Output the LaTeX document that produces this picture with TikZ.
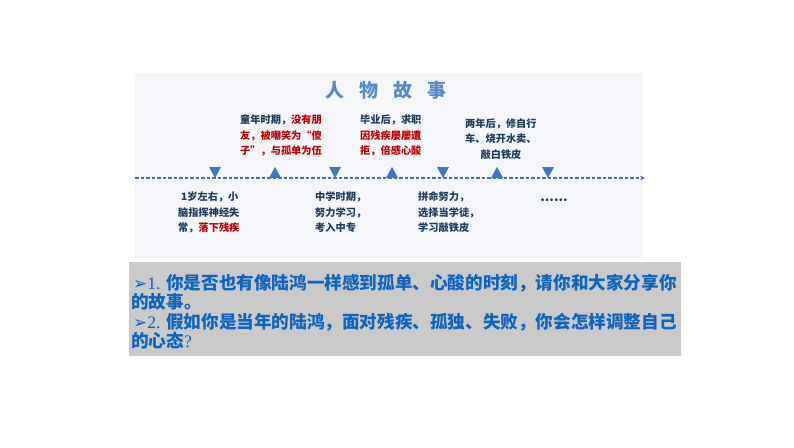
\documentclass[tikz,border=0pt]{standalone}
\usepackage{fontspec}
\usetikzlibrary{arrows.meta}
\newfontfamily\cjk{Noto Sans CJK SC}
\newfontfamily\dingf{DejaVu Sans}
\newfontfamily\serf{Liberation Serif}
\definecolor{panelbg}{HTML}{F4F6F9}
\definecolor{qbg}{HTML}{C9C9C9}
\definecolor{titleblue}{HTML}{5A8AC6}
\definecolor{tdark}{HTML}{1F3B5C}
\definecolor{tred}{HTML}{C00000}
\definecolor{qblue}{HTML}{0E64BE}
\definecolor{triblue}{HTML}{4472C4}
\definecolor{lineblue}{HTML}{4A6FA5}
\tikzset{
  tl/.style={font=\cjk\bfseries\fontsize{10.2}{12}\selectfont, inner sep=0pt, anchor=west, text=tdark},
  qline/.style={font=\cjk\bfseries\fontsize{17.6}{20}\selectfont, inner sep=0pt, anchor=west, text=qblue},
  titlestyle/.style={font=\cjk\bfseries\fontsize{19}{22}\selectfont, text=titleblue, inner sep=0pt},
  tri/.style={fill=triblue, draw=none},
  timeline/.style={draw=lineblue, line width=1.2pt, dash pattern=on 3.5pt off 2pt, -{Stealth[length=5pt,width=4.5pt]}}
}
\newcommand{\qmark}[1]{\makebox[33pt][l]{{\dingf\bfseries\fontsize{17}{18}\selectfont ➢}{\serf\mdseries #1.}}}
\begin{document}
\begin{tikzpicture}[x=1pt,y=-1pt]
\useasboundingbox (0,0) rectangle (794,447);
\fill[white] (0,0) rectangle (794,447);
\fill[panelbg] (135,73) rectangle (643,258);
\fill[qbg] (129,262) rectangle (681,356);
\node[titlestyle] (title) at (386,90) {人\hspace{0.8em}物\hspace{0.8em}故\hspace{0.8em}事};
% timeline
\coordinate (tlstart) at (135,178);
\coordinate (tlend) at (645,178);
\draw[timeline] (tlstart) -- (tlend);
% triangles
\foreach \x in {215,335,443,548} {
  \fill[tri] (\x-6,167) -- (\x+6,167) -- (\x,178) -- cycle;
}
\foreach \x in {275,392,497} {
  \fill[tri] (\x-6,178) -- (\x+6,178) -- (\x,167) -- cycle;
}
% top texts
\node[tl] (t1a) at (240,120) {童年时期，\textcolor{tred}{没有朋}};
\node[tl] (t1b) at (240,136) {\textcolor{tred}{友，被嘲笑为“傻}};
\node[tl] (t1c) at (240,151) {\textcolor{tred}{子”，与孤单为伍}};
\node[tl] (t2a) at (360,120) {毕业后，求职};
\node[tl] (t2b) at (360,136) {\textcolor{tred}{因残疾屡屡遭}};
\node[tl] (t2c) at (360,151) {\textcolor{tred}{拒，倍感心酸}};
\node[tl] (t3a) at (465,124) {两年后，修自行};
\node[tl] (t3b) at (465,139) {车、烧开水卖、};
\node[tl, anchor=center] (t3c) at (501,155) {敲白铁皮};
% bottom texts
\node[tl] (b1a) at (181,197) {1岁左右，小};
\node[tl] (b1b) at (178,213) {脑指挥神经失};
\node[tl] (b1c) at (178,228) {常，\textcolor{tred}{落下残疾}};
\node[tl] (b2a) at (315,197) {中学时期，};
\node[tl] (b2b) at (315,213) {努力学习，};
\node[tl] (b2c) at (315,228) {考入中专};
\node[tl] (b3a) at (418,197) {拼命努力，};
\node[tl] (b3b) at (418,213) {选择当学徒，};
\node[tl] (b3c) at (418,228) {学习敲铁皮};
\node[tl, anchor=center, font=\cjk\bfseries\fontsize{13}{14}\selectfont] (dots) at (554,200) {......};
% questions
\node[qline] (q1a) at (133,283) {\qmark{1}你是否也有像陆鸿一样感到孤单、心酸的时刻，请你和大家分享你};
\node[qline] (q1b) at (131,302) {的故事。};
\node[qline] (q2a) at (133,322) {\qmark{2}假如你是当年的陆鸿，面对残疾、孤独、失败，你会怎样调整自己};
\node[qline] (q2b) at (131,341) {的心态{\serf\mdseries ?}};
\end{tikzpicture}
\end{document}
